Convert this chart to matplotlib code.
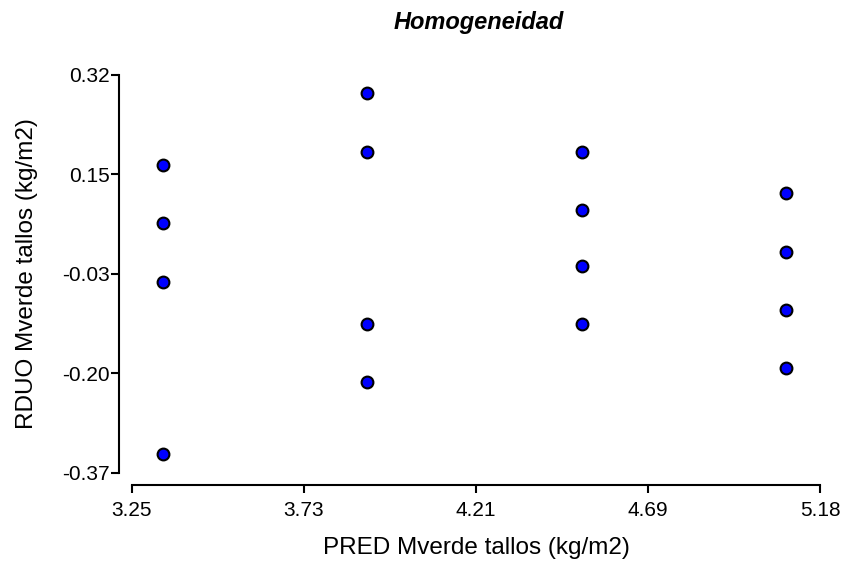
import matplotlib
matplotlib.use("Agg")
import matplotlib.pyplot as plt
import numpy as np

plt.rcParams['font.family'] = ['Liberation Sans', 'DejaVu Sans']

pred = [3.337, 3.337, 3.337, 3.337,
        3.909, 3.909, 3.909, 3.909,
        4.514, 4.514, 4.514, 4.514,
        5.085, 5.085, 5.085, 5.085]
rduo = [0.163, 0.063, -0.039, -0.338,
        0.288, 0.187, -0.112, -0.213,
        0.187, 0.086, -0.011, -0.112,
        0.115, 0.013, -0.088, -0.189]

x_ticks = [3.25, 3.7325, 4.215, 4.6975, 5.18]
x_ticklabels = ["3.25", "3.73", "4.21", "4.69", "5.18"]
y_ticks = [-0.37, -0.1975, -0.025, 0.1475, 0.32]
y_ticklabels = ["-0.37", "-0.20", "-0.03", "0.15", "0.32"]

title = "Homogeneidad"
xlabel = "PRED Mverde tallos (kg/m2)"
ylabel = "RDUO Mverde tallos (kg/m2)"

W, H = 849, 565
fig = plt.figure(figsize=(W/100, H/100), dpi=100)
ax = fig.add_axes([131.7/W, 1-472.7/H, (820-131.7)/W, (472.7-75)/H])

ax.scatter(pred, rduo, s=72, facecolor='#0000ff', edgecolor='black',
           linewidths=1.5, zorder=3, clip_on=False)

ax.set_xlim(x_ticks[0], x_ticks[-1])
ax.set_ylim(y_ticks[0], y_ticks[-1])
ax.set_xticks(x_ticks)
ax.set_xticklabels(x_ticklabels)
ax.set_yticks(y_ticks)
ax.set_yticklabels(y_ticklabels)

for s in ['top', 'right']:
    ax.spines[s].set_visible(False)
for s in ['left', 'bottom']:
    ax.spines[s].set_linewidth(1.5)
    ax.spines[s].set_position(('outward', 8.9))

ax.tick_params(axis='both', width=1.5, length=5.8, colors='black',
               labelsize=15)
ax.tick_params(axis='y', pad=1)
ax.tick_params(axis='x', pad=5.5)

fig.text(476/W, 1-548/H, xlabel, fontsize=17.5, ha='center', va='center')
fig.text(27/W, 1-274/H, ylabel, fontsize=17.5, ha='center', va='center',
         rotation=90)
fig.text(479/W, 1-23/H, title, fontsize=17, fontweight='bold',
         style='italic', ha='center', va='center')

fig.savefig("out.png", dpi=100)
